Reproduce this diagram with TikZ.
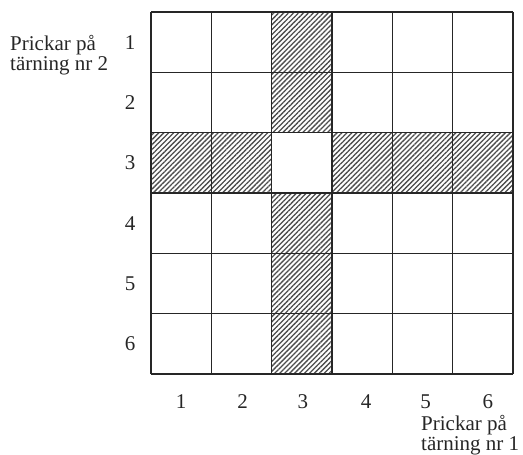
\documentclass[tikz,border=0pt]{standalone}
\usepackage{fontspec}
\setmainfont{Liberation Serif}
\usetikzlibrary{patterns.meta}
\begin{document}
\begin{tikzpicture}[x=1pt,y=1pt,
  gridline/.style={draw=black!85,line width=1.6pt},
  hatch/.style={pattern={Lines[angle=45,distance=3.5pt,line width=1.3pt]},pattern color=black!70},
  lbl/.style={font=\fontsize{21}{21}\selectfont,text=black!85,inner sep=0pt},
  captext/.style={lbl,anchor=base west}]
\useasboundingbox (0,0) rectangle (523,455);
\def\s{60.333}
% hatched cells (image y flipped: top of grid at 443)
\foreach \r in {1,2,4,5,6}{
  \fill[hatch] (151+2*\s,{443-(\r-1)*\s}) rectangle (151+3*\s,{443-\r*\s});
}
\foreach \c in {1,2,4,5,6}{
  \fill[hatch] ({151+(\c-1)*\s},{443-2*\s}) rectangle ({151+\c*\s},{443-3*\s});
}
% grid
\foreach \i in {0,...,6}{
  \draw[gridline] ({151+\i*\s},443) -- ({151+\i*\s},81);
  \draw[gridline] (151,{443-\i*\s}) -- (513,{443-\i*\s});
}
% row labels
\foreach \r in {1,...,6}{
  \node[lbl] (row\r) at (130,{443-(\r-0.5)*\s}) {\r};
}
% column labels
\foreach \c/\dx in {1/0,2/1,3/1,4/4,5/3,6/5}{
  \node[lbl] (col\c) at ({151+(\c-0.5)*\s+\dx},53) {\c};
}
\node[captext] (lefta) at (10,404) {Prickar på};
\node[captext] (leftb) at (10,384) {tärning nr 2};
\node[captext] (bota) at (421,24) {Prickar på};
\node[captext] (botb) at (421,4.5) {tärning nr 1};
\end{tikzpicture}
\end{document}
